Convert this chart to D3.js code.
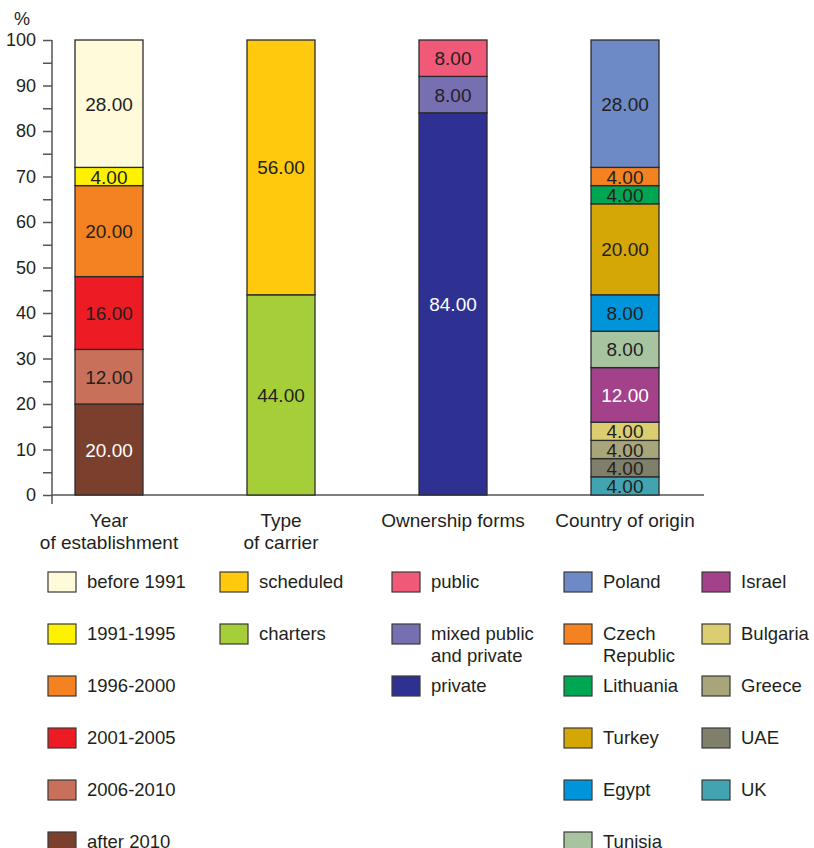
<!DOCTYPE html>
<html><head><meta charset="utf-8">
<script src="https://cdn.jsdelivr.net/npm/d3@7"></script>
<style>body{margin:0;background:#fff}text{font-family:"Liberation Sans",Arial,sans-serif;fill:#231f20}</style>
</head><body><svg id="c" width="814" height="848"></svg>
<script>
const categories = ["Year|of establishment", "Type|of carrier", "Ownership forms", "Country of origin"];
// bottom-to-top stacking order per category
const yearSeries = ["after 2010", "2006-2010", "2001-2005", "1996-2000", "1991-1995", "before 1991"];
const yearValues = [20, 12, 16, 20, 4, 28];
const typeSeries = ["charters", "scheduled"];
const typeValues = [44, 56];
const ownSeries = ["private", "mixed public|and private", "public"];
const ownValues = [84, 8, 8];
const countrySeries = ["UK", "UAE", "Greece", "Bulgaria", "Israel", "Tunisia", "Egypt", "Turkey", "Lithuania", "Czech|Republic", "Poland"];
const countryValues = [4, 4, 4, 4, 12, 8, 8, 20, 4, 4, 28];
const yTicks = [0, 10, 20, 30, 40, 50, 60, 70, 80, 90, 100];

const colors = {
  "before 1991": "#fffad9", "1991-1995": "#fff200", "1996-2000": "#f58220", "2001-2005": "#ed1c24",
  "2006-2010": "#c8705a", "after 2010": "#7b3f2e",
  "scheduled": "#ffc90e", "charters": "#a6ce39",
  "public": "#f05a78", "mixed public|and private": "#7670b3", "private": "#2e3192",
  "Poland": "#6d8ac6", "Czech|Republic": "#f58220", "Lithuania": "#00a651", "Turkey": "#d4a707",
  "Egypt": "#0095da", "Tunisia": "#a8c3a0", "Israel": "#a3428a", "Bulgaria": "#dccd70",
  "Greece": "#a8a57a", "UAE": "#7f7f6b", "UK": "#42a4b0"
};
const whiteLabels = new Set(["after 2010", "private", "Israel"]);

const groups = [
  {cat: categories[0], series: yearSeries, values: yearValues},
  {cat: categories[1], series: typeSeries, values: typeValues},
  {cat: categories[2], series: ownSeries, values: ownValues},
  {cat: categories[3], series: countrySeries, values: countryValues}
];

const svg = d3.select("#c");
const x = d3.scaleBand().domain(categories).range([23, 711]).paddingInner(0.6047).paddingOuter(0.3023);
const y = d3.scaleLinear().domain([0, 100]).range([495, 40]);

// Axis
const axisX = 52;
const ax = svg.append("g").attr("transform", `translate(${axisX},0)`)
  .call(d3.axisLeft(y).tickValues(d3.range(0, 101, 5)).tickSize(9).tickPadding(7).tickSizeOuter(0)
    .tickFormat(d => d % 10 === 0 ? d : ""));
ax.select(".domain").remove();
ax.selectAll(".tick line").attr("stroke", "#555").attr("stroke-width", 1.5);
ax.selectAll(".tick text").attr("font-size", 18).attr("fill", "#231f20").attr("font-family", "Liberation Sans, Arial, sans-serif");
svg.append("line").attr("x1", axisX).attr("x2", axisX).attr("y1", y(100)).attr("y2", y(0) + 9)
  .attr("stroke", "#555").attr("stroke-width", 1.5);
svg.append("line").attr("x1", axisX).attr("x2", 704).attr("y1", y(0)).attr("y2", y(0))
  .attr("stroke", "#555").attr("stroke-width", 1.5);
svg.append("text").attr("x", 14).attr("y", 25).attr("font-size", 18).text("%");

// Bars
groups.forEach(g => {
  const stack = [];
  let acc = 0;
  g.series.forEach((s, i) => { stack.push({s, v: g.values[i], y0: acc, y1: acc + g.values[i]}); acc += g.values[i]; });
  const gg = svg.append("g");
  gg.selectAll("rect").data(stack).join("rect")
    .attr("x", x(g.cat)).attr("width", x.bandwidth())
    .attr("y", d => y(d.y1)).attr("height", d => y(d.y0) - y(d.y1))
    .attr("fill", d => colors[d.s]).attr("stroke", "#2b2b2b").attr("stroke-width", 1.3);
  gg.selectAll("text").data(stack).join("text")
    .attr("x", x(g.cat) + x.bandwidth() / 2)
    .attr("y", d => (y(d.y0) + y(d.y1)) / 2 + 7)
    .attr("text-anchor", "middle").attr("font-size", 19)
    .style("fill", d => whiteLabels.has(d.s) ? "#ffffff" : "#231f20")
    .text(d => d.v.toFixed(2));
  // category label
  const lines = g.cat.split("|");
  const t = svg.append("text").attr("text-anchor", "middle").attr("font-size", 19)
    .attr("x", x(g.cat) + x.bandwidth() / 2).attr("y", 527);
  lines.forEach((l, i) => t.append("tspan").attr("x", x(g.cat) + x.bandwidth() / 2).attr("dy", i ? 22 : 0).text(l));
});

// Legend
const legendCols = [
  {x: x(categories[0]) - 27, items: yearSeries.slice().reverse()},
  {x: x(categories[1]) - 27, items: typeSeries.slice().reverse()},
  {x: x(categories[2]) - 27, items: ownSeries.slice().reverse()},
  {x: x(categories[3]) - 27, items: countrySeries.slice().reverse().slice(0, 6)},
  {x: x(categories[3]) + 111, items: countrySeries.slice().reverse().slice(6)}
];
legendCols.forEach(col => {
  col.items.forEach((item, i) => {
    const top = 572 + i * 52;
    svg.append("rect").attr("x", col.x).attr("y", top).attr("width", 28).attr("height", 20)
      .attr("fill", colors[item]).attr("stroke", "#3a3a3a").attr("stroke-width", 1.2);
    const t = svg.append("text").attr("x", col.x + 39).attr("y", top + 16).attr("font-size", 18.5);
    item.split("|").forEach((l, j) => t.append("tspan").attr("x", col.x + 39).attr("dy", j ? 22 : 0).text(l));
  });
});
</script></body></html>
